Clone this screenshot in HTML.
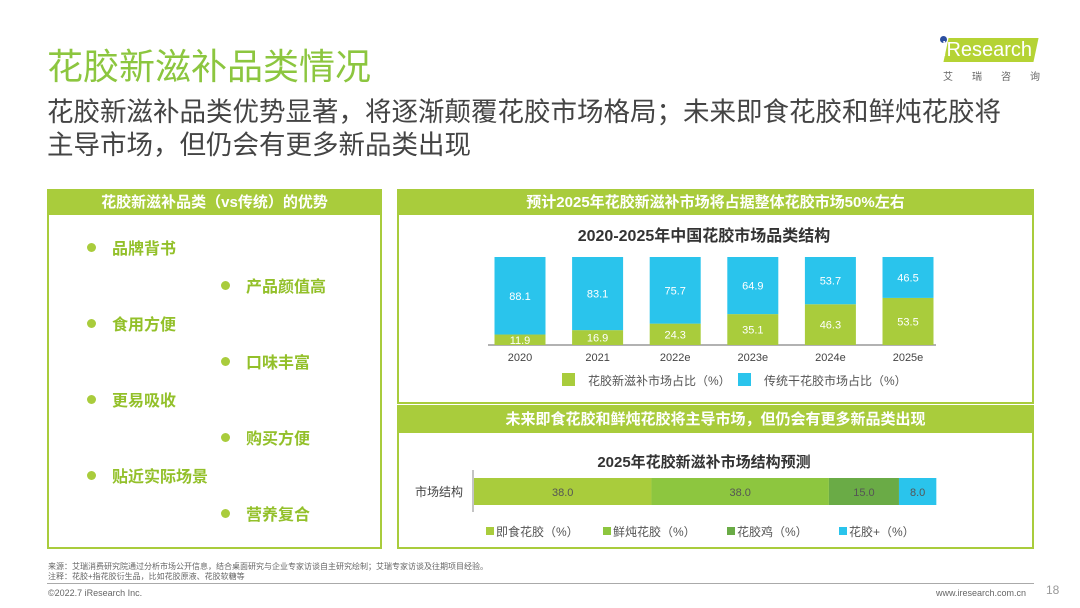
<!DOCTYPE html>
<html><head><meta charset="utf-8"><style>
body{margin:0;width:1080px;height:608px;background:#fff;position:relative;overflow:hidden;font-family:"Liberation Sans","Noto Sans CJK SC",sans-serif}
.abs{position:absolute}
.panel{position:absolute;border:2px solid #a9cc3c;box-sizing:border-box}
.hdr{position:absolute;left:0;right:0;top:0;background:#a9cc3c;color:#fff;font-weight:bold;font-size:15px;text-align:center}
.item{position:absolute;color:#93c02a;font-weight:bold;font-size:16px}
.item:before{content:"";display:inline-block;width:9px;height:9px;border-radius:50%;background:#a9cc3c;margin-right:16px;vertical-align:2px}
</style></head><body>
<div class="abs" style="left:47px;top:45px;font-size:36px;line-height:44px;color:#8cc63f">花胶新滋补品类情况</div>
<div class="abs" style="left:47px;top:96px;font-size:26.5px;line-height:33px;color:#444;white-space:nowrap">花胶新滋补品类优势显著，将逐渐颠覆花胶市场格局；未来即食花胶和鲜炖花胶将<br>主导市场，但仍会有更多新品类出现</div>
<div class="abs" style="left:940px;top:36px;width:96px;height:28px">
<div class="abs" style="left:6px;top:2px;width:90px;height:24px;background:#b5d334;transform:skewX(-12deg)"></div>
<div class="abs" style="left:0;top:0;width:7px;height:7px;border-radius:50%;background:#2b4ea0"></div>
<div class="abs" style="left:2px;top:3px;font-size:20px;color:#fff">iResearch</div>
<div class="abs" style="left:3px;top:32px;font-size:10px;color:#666;letter-spacing:19px;white-space:nowrap">艾瑞咨询</div></div>

<div class="panel" style="left:47px;top:189px;width:335px;height:360px">
<div class="hdr" style="height:24px;line-height:24px">花胶新滋补品类（vs传统）的优势</div>
<div class="item" style="left:38px;top:44px">品牌背书</div>
<div class="item" style="left:172px;top:82px">产品颜值高</div>
<div class="item" style="left:38px;top:120px">食用方便</div>
<div class="item" style="left:172px;top:158px">口味丰富</div>
<div class="item" style="left:38px;top:196px">更易吸收</div>
<div class="item" style="left:172px;top:234px">购买方便</div>
<div class="item" style="left:38px;top:272px">贴近实际场景</div>
<div class="item" style="left:172px;top:310px">营养复合</div>
</div>

<div class="panel" style="left:397px;top:189px;width:637px;height:215px">
<div class="hdr" style="height:24px;line-height:24px">预计2025年花胶新滋补市场将占据整体花胶市场50%左右</div></div>
<div class="panel" style="left:397px;top:405px;width:637px;height:144px">
<div class="hdr" style="height:26px;line-height:26px">未来即食花胶和鲜炖花胶将主导市场，但仍会有更多新品类出现</div></div>

<svg class="abs" style="left:0;top:0" width="1080" height="608" id="chart" font-family="Liberation Sans, Noto Sans CJK SC, sans-serif">
<text x="704" y="241" text-anchor="middle" font-size="16" font-weight="bold" fill="#333">2020-2025年中国花胶市场品类结构</text>
<line x1="488" y1="345" x2="936" y2="345" stroke="#999" stroke-width="1.5"/>
<rect x="562" y="373" width="13" height="13" fill="#a9cc3c"/><text x="588" y="385" font-size="12" fill="#555">花胶新滋补市场占比（%）</text>
<rect x="738" y="373" width="13" height="13" fill="#2ac4ec"/><text x="764" y="385" font-size="12" fill="#555">传统干花胶市场占比（%）</text>
<text x="704" y="467" text-anchor="middle" font-size="15" font-weight="bold" fill="#333">2025年花胶新滋补市场结构预测</text>
<text x="463" y="496" text-anchor="end" font-size="12" fill="#444">市场结构</text>
<line x1="473" y1="470" x2="473" y2="512" stroke="#888"/>
<g id="bars"></g><g id="hbars"></g>
</svg>

<div class="abs" style="left:48px;top:562px;font-size:8px;color:#666;line-height:10px">来源：艾瑞消费研究院通过分析市场公开信息，结合桌面研究与企业专家访谈自主研究绘制；艾瑞专家访谈及往期项目经验。<br>注释：花胶+指花胶衍生品，比如花胶原液、花胶软糖等</div>
<div class="abs" style="left:47px;top:583px;width:987px;height:1px;background:#aaa"></div>
<div class="abs" style="left:48px;top:588px;font-size:9px;color:#666">©2022.7 iResearch Inc.</div>
<div class="abs" style="left:936px;top:588px;font-size:9px;color:#666">www.iresearch.com.cn</div>
<div class="abs" style="left:1046px;top:583px;font-size:12px;color:#999">18</div>

<script>
const years=["2020","2021","2022e","2023e","2024e","2025e"];
const newShare=[11.9,16.9,24.3,35.1,46.3,53.5];
const oldShare=[88.1,83.1,75.7,64.9,53.7,46.5];
const segNames=["即食花胶（%）","鲜炖花胶（%）","花胶鸡（%）","花胶+（%）"];
const segValues=[38.0,38.0,15.0,8.0];
const segColors=["#a9cc3c","#8dc63f","#6aab46","#2ac4ec"];
const NS="http://www.w3.org/2000/svg";
function mk(t,a,p){const e=document.createElementNS(NS,t);for(const k in a)e.setAttribute(k,a[k]);p.appendChild(e);return e;}
const g=document.getElementById('bars');
const x0=520,step=77.6,bw=51,base=345,h=88;
const y=v=>v/100*h;
years.forEach((yr,i)=>{
 const cx=x0+i*step;
 const gh=y(newShare[i]),bh=y(oldShare[i]);
 const r1=mk('rect',{x:cx-bw/2,y:base-gh,width:bw,height:gh,fill:'#a9cc3c'},g);
 
 
 const r2=mk('rect',{x:cx-bw/2,y:base-gh-bh,width:bw,height:bh,fill:'#2ac4ec'},g);
 
 
 mk('text',{x:cx,y:base-gh/2+4,'text-anchor':'middle','font-size':11,fill:'#fff'},g).textContent=newShare[i].toFixed(1);
 mk('text',{x:cx,y:base-gh-bh/2+4,'text-anchor':'middle','font-size':11,fill:'#fff'},g).textContent=oldShare[i].toFixed(1);
 mk('text',{x:cx,y:361,'text-anchor':'middle','font-size':11,fill:'#444'},g).textContent=yr;
});
const hg=document.getElementById('hbars');
const hx=v=>v*4.67;
let acc=474;
const lx=[486,603,727,839];
segValues.forEach((v,i)=>{
 const w=hx(v);
 const r=mk('rect',{x:acc,y:478,width:w,height:27,fill:segColors[i]},hg);
 
 
 mk('text',{x:acc+w/2,y:496,'text-anchor':'middle','font-size':11,fill:'#555'},hg).textContent=v.toFixed(1);
 acc+=w;
 mk('rect',{x:lx[i],y:527,width:8,height:8,fill:segColors[i]},hg);
 mk('text',{x:lx[i]+10,y:536,'font-size':12,fill:'#555'},hg).textContent=segNames[i];
});
</script>
</body></html>
